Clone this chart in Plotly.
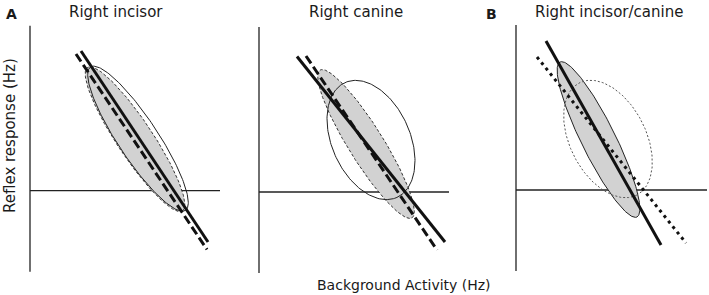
import numpy as np
import plotly.graph_objects as go

W, H = 709, 295

# ---- data (schematic, in units relative to each panel's axis crossing) ----
titles = ["Right incisor", "Right canine", "Right incisor/canine"]
panel_letters = ["A", "", "B"]

# regression lines: [x0, x1], [y0, y1]
p1_solid_x, p1_solid_y = [51, 178], [139.7, -51.3]
p1_dash_x, p1_dash_y = [46, 177], [136.7, -58.8]
p2_solid_x, p2_solid_y = [38, 186], [135.5, -50]
p2_dash_x, p2_dash_y = [47, 178], [136, -58]
p3_solid_x, p3_solid_y = [30, 145], [149, -55]
p3_dot_x, p3_dot_y = [21, 170], [133, -53]

# ellipses: center x, center y, semi-major, semi-minor, angle (deg)
p1_grey_ell = [105, 51.5, 86, 18, -56.5]
p1_line_ell = [108, 52, 86, 20, -56.5]
p2_grey_ell = [107, 48, 87, 17.5, -58.1]
p2_line_ell = [112, 52, 63, 39, -65.7]
p3_grey_ell = [82.5, 50.5, 86.5, 17, -63.6]
p3_dot_ell = [92, 51, 63, 38, -63]

axis_len_x = [190, 190, 191]
axis_y_top, axis_y_bot = 165, -81

# ---- layout geometry (pixels) ----
origins = [(30, 190.7), (259, 192), (516, 190)]
XR = [-4, 192]
YR = [-84, 168]


def ellipse(p, n=200):
    cx, cy, a, b, ang = p
    t = np.linspace(0, 2 * np.pi, n)
    th = np.deg2rad(ang)
    x = cx + a * np.cos(t) * np.cos(th) - b * np.sin(t) * np.sin(th)
    y = cy + a * np.cos(t) * np.sin(th) + b * np.sin(t) * np.cos(th)
    return x, y


fig = go.Figure()
GREY = "#d2d2d2"
DARK = "#111111"


def add_ell(k, p, fill, dash, color, width):
    x, y = ellipse(p)
    fig.add_trace(go.Scatter(
        x=x, y=y, mode="lines", xaxis=f"x{k}", yaxis=f"y{k}",
        fill="toself" if fill else None, fillcolor=GREY if fill else None,
        line=dict(color=color, width=width, dash=dash),
        hoverinfo="skip", showlegend=False))


def add_line(k, xs, ys, dash, width=3):
    fig.add_trace(go.Scatter(
        x=xs, y=ys, mode="lines", xaxis=f"x{k}", yaxis=f"y{k}",
        line=dict(color=DARK, width=width, dash=dash),
        hoverinfo="skip", showlegend=False))


def add_axes(k, L):
    fig.add_trace(go.Scatter(
        x=[0, 0, None, 0, L], y=[axis_y_top, axis_y_bot, None, 0, 0],
        mode="lines", xaxis=f"x{k}", yaxis=f"y{k}",
        line=dict(color="#222222", width=1.3),
        hoverinfo="skip", showlegend=False))


# panel 1
add_axes(1, axis_len_x[0])
add_ell(1, p1_grey_ell, True, "3px,2px", "#333333", 1)
add_ell(1, p1_line_ell, False, "solid", "#222222", 1)
add_line(1, p1_solid_x, p1_solid_y, "solid")
add_line(1, p1_dash_x, p1_dash_y, "9px,4px")

# panel 2
add_axes(2, axis_len_x[1])
add_ell(2, p2_grey_ell, True, "3px,2px", "#333333", 1)
add_ell(2, p2_line_ell, False, "solid", "#222222", 1)
add_line(2, p2_solid_x, p2_solid_y, "solid")
add_line(2, p2_dash_x, p2_dash_y, "9px,4px")

# panel 3
add_axes(3, axis_len_x[2])
add_ell(3, p3_grey_ell, True, "solid", "#222222", 1)
add_ell(3, p3_dot_ell, False, "2px,2px", "#555555", 1)
add_line(3, p3_solid_x, p3_solid_y, "solid")
add_line(3, p3_dot_x, p3_dot_y, "3px,4px")

layout = dict(width=W, height=H, margin=dict(l=0, r=0, t=0, b=0),
              paper_bgcolor="white", plot_bgcolor="rgba(0,0,0,0)",
              font=dict(family="DejaVu Sans", color="#1a1a1a"))
for i, (ox, oy) in enumerate(origins):
    k = i + 1
    sx = "" if k == 1 else str(k)
    layout[f"xaxis{sx}"] = dict(domain=[(ox + XR[0]) / W, (ox + XR[1]) / W], range=XR,
                                visible=False, fixedrange=True)
    layout[f"yaxis{sx}"] = dict(domain=[(H - (oy - YR[0])) / H, (H - (oy - YR[1])) / H],
                                range=YR, visible=False, fixedrange=True,
                                anchor=f"x{sx}" if sx else "x")
    layout[f"xaxis{sx}"]["anchor"] = f"y{sx}" if sx else "y"

fig.update_layout(**layout)

title_x = [116, 356, 609]
for t, tx in zip(titles, title_x):
    fig.add_annotation(text=t, x=tx / W, y=1 - 12 / H, xref="paper", yref="paper",
                       showarrow=False, font=dict(size=15), xanchor="center", yanchor="middle")
letter_x = [11, 0, 491]
for l, lx in zip(panel_letters, letter_x):
    if l:
        fig.add_annotation(text=f"<b>{l}</b>", x=lx / W, y=1 - 14 / H, xref="paper", yref="paper",
                           showarrow=False, font=dict(size=14, family="DejaVu Sans"),
                           xanchor="center", yanchor="middle")

fig.add_annotation(text="Reflex response (Hz)", x=10 / W, y=1 - 136 / H, xref="paper", yref="paper",
                   showarrow=False, textangle=-90, font=dict(size=15), xanchor="center", yanchor="middle")
fig.add_annotation(text="Background Activity (Hz)", x=404 / W, y=1 - 285 / H, xref="paper", yref="paper",
                   showarrow=False, font=dict(size=14), xanchor="center", yanchor="middle")

fig.write_html("out.html", config={"displayModeBar": False},
               post_script="document.body.style.margin='0';document.body.style.overflow='hidden';")
